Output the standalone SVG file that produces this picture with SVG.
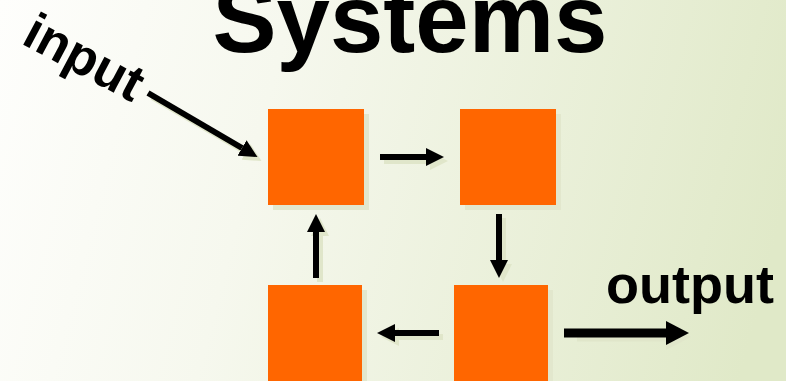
<svg xmlns="http://www.w3.org/2000/svg" width="786" height="381" viewBox="0 0 786 381">
<defs>
<linearGradient id="bg" x1="0" y1="0" x2="786" y2="200" gradientUnits="userSpaceOnUse">
<stop offset="0" stop-color="#fefefc"/>
<stop offset="0.35" stop-color="#f6f8ee"/>
<stop offset="1" stop-color="#e0e9c8"/>
</linearGradient>
<marker id="ah" viewBox="0 0 10 10" refX="0" refY="5" markerWidth="3" markerHeight="3" orient="auto" markerUnits="strokeWidth">
<path d="M0,0 L10,5 L0,10 z" fill="#000"/>
</marker>
<marker id="ahs" viewBox="0 0 10 10" refX="0" refY="5" markerWidth="3" markerHeight="3" orient="auto" markerUnits="strokeWidth">
<path d="M0,0 L10,5 L0,10 z" fill="#e0e6ca"/>
</marker>
</defs>
<style>
.box{fill:#ff6600}
.sh{fill:#e2e7cd}
.ln{stroke:#000;stroke-width:6;fill:none;marker-end:url(#ah)}
.lns{stroke:#e0e6ca;stroke-width:6;fill:none;marker-end:url(#ahs)}
.t{font-family:"Liberation Sans",Arial,sans-serif;font-weight:bold;fill:#000}
</style>
<rect width="786" height="381" fill="url(#bg)"/>
<text class="t" x="410" y="52" font-size="96" text-anchor="middle">Systems</text>
<text class="t" font-size="52" transform="translate(20,43) rotate(28)">input</text>
<text class="t" x="606" y="303" font-size="54">output</text>
<g id="connectors">
<g transform="translate(4,4)">
<path class="lns" d="M148,93 L242,148"/>
<path class="lns" d="M380,157 L426,157"/>
<path class="lns" d="M499,214 L499,260"/>
<path class="lns" d="M439,333 L395,333"/>
<path class="lns" d="M316,278 L316,232"/>
</g>
<path class="ln" d="M148,93 L242,148"/>
<path class="ln" d="M380,157 L426,157"/>
<path class="ln" d="M499,214 L499,260"/>
<path class="ln" d="M439,333 L395,333"/>
<path class="ln" d="M316,278 L316,232"/>
<path d="M573,333 L666,333" stroke="#e0e6ca" stroke-width="9" transform="translate(4,4)"/>
<path d="M666,324 L691,337 L666,350 z" fill="#e0e6ca"/>
<path d="M564,333 L666,333" stroke="#000" stroke-width="9"/>
<path d="M666,321 L689,333 L666,345 z" fill="#000"/>
</g>
<g id="n1"><rect class="sh" x="273" y="114" width="96" height="96"/><rect class="box" x="268" y="109" width="96" height="96"/></g>
<g id="n2"><rect class="sh" x="465" y="114" width="96" height="96"/><rect class="box" x="460" y="109" width="96" height="96"/></g>
<g id="n3"><rect class="sh" x="273" y="290" width="94" height="96"/><rect class="box" x="268" y="285" width="94" height="96"/></g>
<g id="n4"><rect class="sh" x="459" y="290" width="94" height="96"/><rect class="box" x="454" y="285" width="94" height="96"/></g>
</svg>
